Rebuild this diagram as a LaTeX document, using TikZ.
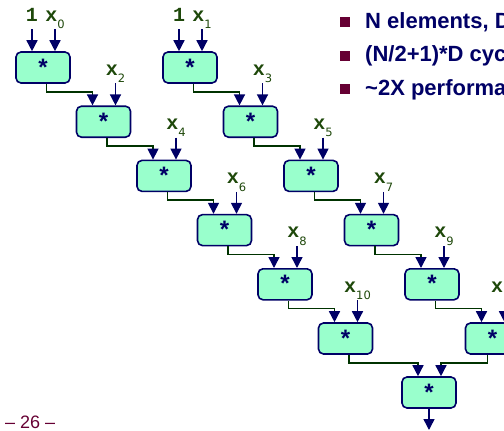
\documentclass[tikz,border=0pt]{standalone}
\usepackage{fontspec}
\setmainfont{Liberation Sans}
\newfontfamily\monofnt{Liberation Mono}
\newfontfamily\subfnt{DejaVu Sans}
\usetikzlibrary{arrows.meta}
\definecolor{navy}{RGB}{0,0,102}
\definecolor{mint}{RGB}{153,255,204}
\definecolor{dkgreen}{RGB}{0,51,0}
\definecolor{lbgreen}{RGB}{30,72,10}
\definecolor{maroon}{RGB}{102,0,51}
\newcommand{\xl}[1]{{\monofnt\bfseries x}\raisebox{-7.5pt}{\subfnt\fontsize{11.5}{12}\selectfont #1}}
\newcommand{\one}{{\monofnt\bfseries 1}}

\begin{document}
\begin{tikzpicture}[x=1pt,y=-1pt,
  mul/.style={draw=navy,fill=mint,line width=1.6pt,rounded corners=5pt,
    minimum width=54pt,minimum height=31pt,inner sep=0pt,text=navy,
    font=\monofnt\bfseries\fontsize{24}{24}\selectfont},
  lab/.style={anchor=base,text depth=7.5pt,inner sep=0.5pt,text=lbgreen,
    font=\fontsize{20}{20}\selectfont},
  inp/.style={draw=navy,line width=1.5pt,-{Triangle[length=11pt,width=11pt]}},
  wire/.style={draw=dkgreen,line width=1.5pt,
    -{Triangle[length=11pt,width=11pt,color=navy]}},
  item/.style={anchor=base west,inner sep=0pt,text=navy,
    font=\bfseries\fontsize{22}{22}\selectfont},
  bul/.style={fill=maroon,minimum size=10pt,inner sep=0pt}]
\useasboundingbox (0,0) rectangle (504,431);
\clip (0,0) rectangle (504,431);
% left chain
\node[mul] (a0) at (43,67.5) {*};
\node[mul] (a1) at (103.5,121.7) {*};
\node[mul] (a2) at (164,175.9) {*};
\node[mul] (a3) at (224.5,230.1) {*};
\node[mul] (a4) at (285,284.3) {*};
\node[mul] (a5) at (345.5,338.5) {*};
% right chain
\node[mul] (b0) at (190,67.5) {*};
\node[mul] (b1) at (250.5,121.7) {*};
\node[mul] (b2) at (311,175.9) {*};
\node[mul] (b3) at (371.5,230.1) {*};
\node[mul] (b4) at (432,284.3) {*};
\node[mul] (b5) at (492.5,338.5) {*};
%
\node[mul] (c) at (429,392.5) {*};
\coordinate (out) at (429,430);
% inputs
\node[lab] (k0) at (32,21) {\one};
\node[lab] (x0) at (55,21) {\xl{0}};
\node[lab] (k1) at (179,21) {\one};
\node[lab] (x1) at (202,21) {\xl{1}};
\node[lab] (x2) at (115.5,75.2) {\xl{2}};
\node[lab] (x3) at (262.5,75.2) {\xl{3}};
\node[lab] (x4) at (176,129.4) {\xl{4}};
\node[lab] (x5) at (323,129.4) {\xl{5}};
\node[lab] (x6) at (236.5,183.6) {\xl{6}};
\node[lab] (x7) at (383.5,183.6) {\xl{7}};
\node[lab] (x8) at (297,237.8) {\xl{8}};
\node[lab] (x9) at (444,237.8) {\xl{9}};
\node[lab] (x10) at (357.5,292) {\xl{10}};
\node[lab] (x11) at (504.5,292) {\xl{11}};
% text
\node[bul] (p1) at (345,22) {};
\node[item] (t1) at (365,28) {N elements, D cycles/operation};
\node[bul] (p2) at (345,55.5) {};
\node[item] (t2) at (365,61.5) {(N/2+1)*D cycles};
\node[bul] (p3) at (345,89) {};
\node[item] (t3) at (365,95) {\textasciitilde 2X performance improvement};
\node[anchor=base west,inner sep=0pt,text=maroon,font=\fontsize{18}{18}\selectfont]
  (pg) at (5,428) {– 26 –};
%
\draw[inp] (k0) -- (k0 |- a0.north);
\draw[inp] (x0) -- (x0 |- a0.north);
\draw[inp] (k1) -- (k1 |- b0.north);
\draw[inp] (x1) -- (x1 |- b0.north);
\draw[inp] (x2) -- (x2 |- a1.north);
\draw[inp] (x3) -- (x3 |- b1.north);
\draw[inp] (x4) -- (x4 |- a2.north);
\draw[inp] (x5) -- (x5 |- b2.north);
\draw[inp] (x6) -- (x6 |- a3.north);
\draw[inp] (x7) -- (x7 |- b3.north);
\draw[inp] (x8) -- (x8 |- a4.north);
\draw[inp] (x9) -- (x9 |- b4.north);
\draw[inp] (x10) -- (x10 |- a5.north);
\draw[inp] (x11) -- (x11 |- b5.north);
%
\draw[wire] ([xshift=3.5pt]a0.south) -- ++(0,8) -| ([xshift=-11pt]a1.north);
\draw[wire] ([xshift=3.5pt]a1.south) -- ++(0,8) -| ([xshift=-11pt]a2.north);
\draw[wire] ([xshift=3.5pt]a2.south) -- ++(0,8) -| ([xshift=-11pt]a3.north);
\draw[wire] ([xshift=3.5pt]a3.south) -- ++(0,8) -| ([xshift=-11pt]a4.north);
\draw[wire] ([xshift=3.5pt]a4.south) -- ++(0,8) -| ([xshift=-11pt]a5.north);
\draw[wire] ([xshift=3.5pt]b0.south) -- ++(0,8) -| ([xshift=-11pt]b1.north);
\draw[wire] ([xshift=3.5pt]b1.south) -- ++(0,8) -| ([xshift=-11pt]b2.north);
\draw[wire] ([xshift=3.5pt]b2.south) -- ++(0,8) -| ([xshift=-11pt]b3.north);
\draw[wire] ([xshift=3.5pt]b3.south) -- ++(0,8) -| ([xshift=-11pt]b4.north);
\draw[wire] ([xshift=3.5pt]b4.south) -- ++(0,8) -| ([xshift=-11pt]b5.north);
\draw[wire] ([xshift=3.5pt]a5.south) -- ++(0,8) -| ([xshift=-11pt]c.north);
\draw[wire] ([xshift=-5pt]b5.south) -- ++(0,8) -| ([xshift=12pt]c.north);
\draw[inp] (c) -- (out);
\end{tikzpicture}
\end{document}
